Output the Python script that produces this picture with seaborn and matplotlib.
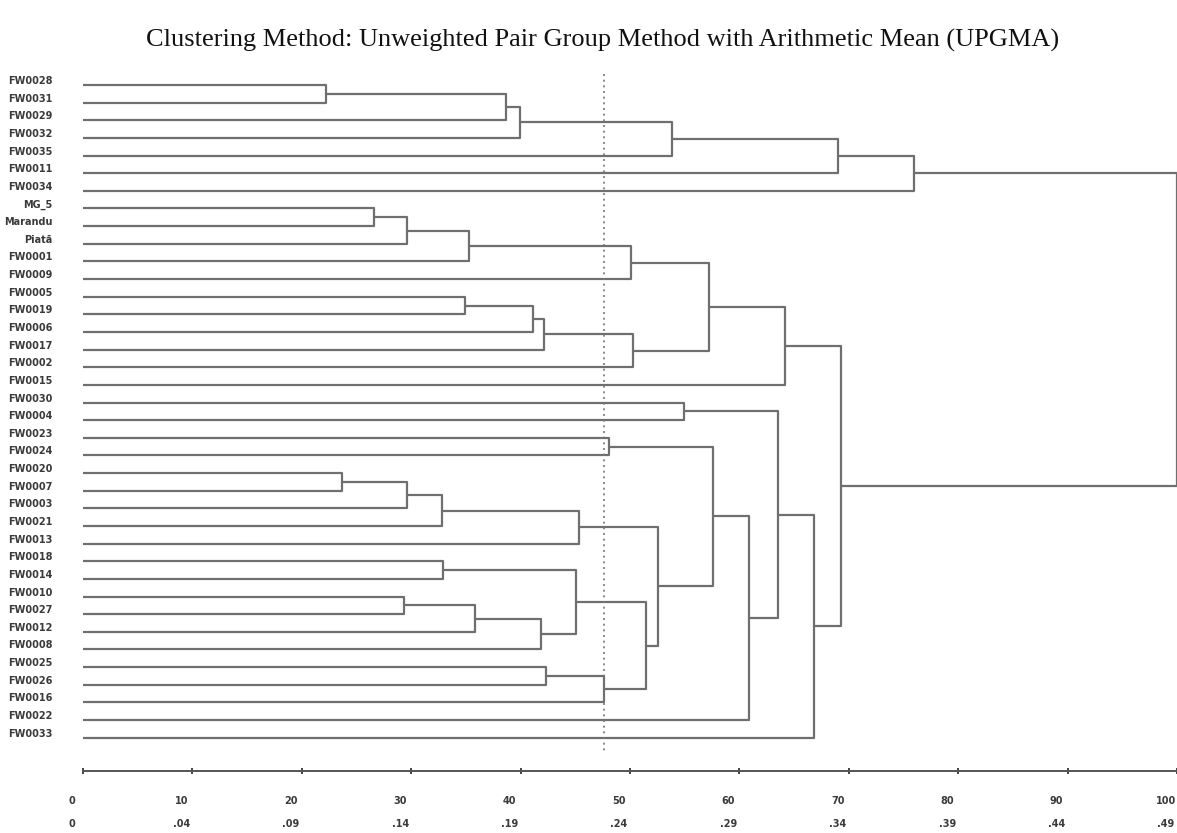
import matplotlib
matplotlib.use("Agg")
import matplotlib.pyplot as plt
import matplotlib.transforms as mtransforms
import seaborn as sns
import pandas as pd

# ---------------- data ----------------
leaves = ["FW0028", "FW0031", "FW0029", "FW0032", "FW0035", "FW0011", "FW0034",
          "MG_5", "Marandu", "Piatã", "FW0001", "FW0009", "FW0005", "FW0019",
          "FW0006", "FW0017", "FW0002", "FW0015", "FW0030", "FW0004", "FW0023",
          "FW0024", "FW0020", "FW0007", "FW0003", "FW0021", "FW0013", "FW0018",
          "FW0014", "FW0010", "FW0027", "FW0012", "FW0008", "FW0025", "FW0026",
          "FW0016", "FW0022", "FW0033"]

# merges: (name, left child, right child, height in % dissimilarity)
merge_names = ["a1", "a2", "a3", "a4", "a5", "A",
               "b1", "b2", "b3", "b4", "c1", "c2", "c3", "c4", "bc", "B",
               "d1", "e1", "f1", "f2", "f3", "f4", "g1", "h1", "h2", "h3", "gh",
               "k1", "k2", "ghk", "fghk", "efghk", "efghk22", "D", "DD",
               "BD", "ROOT"]
merge_left = ["FW0028", "a1", "a2", "a3", "a4", "a5",
              "MG_5", "b1", "b2", "b3", "FW0005", "c1", "c2", "c3", "b4", "bc",
              "FW0030", "FW0023", "FW0020", "f1", "f2", "f3", "FW0018", "FW0010", "h1", "h2", "g1",
              "FW0025", "k1", "gh", "f4", "e1", "efghk", "d1", "D",
              "B", "A"]
merge_right = ["FW0031", "FW0029", "FW0032", "FW0035", "FW0011", "FW0034",
               "Marandu", "Piatã", "FW0001", "FW0009", "FW0019", "FW0006", "FW0017", "FW0002", "c4", "FW0015",
               "FW0004", "FW0024", "FW0007", "FW0003", "FW0021", "FW0013", "FW0014", "FW0027", "FW0012", "FW0008", "h3",
               "FW0026", "FW0016", "k2", "ghk", "fghk", "FW0022", "efghk22", "FW0033",
               "DD", "BD"]
merge_height = [22.2, 38.7, 39.9, 53.8, 69.0, 76.0,
                26.6, 29.6, 35.3, 50.1, 34.9, 41.1, 42.1, 50.3, 57.2, 64.2,
                54.9, 48.1, 23.7, 29.6, 32.8, 45.3, 32.9, 29.3, 35.8, 41.9, 45.1,
                42.3, 47.6, 51.5, 52.6, 57.6, 60.9, 63.5, 66.8,
                69.3, 100.0]

cut_level = 47.6

tick_values = [0, 10, 20, 30, 40, 50, 60, 70, 80, 90, 100]
tick_labels_pct = ["0", "10", "20", "30", "40", "50", "60", "70", "80", "90", "100"]
tick_labels_dist = ["0", ".04", ".09", ".14", ".19", ".24", ".29", ".34", ".39", ".44", ".49"]

title = "Clustering Method: Unweighted Pair Group Method with Arithmetic Mean (UPGMA)"

# ---------------- geometry from the tree ----------------
pos = {name: (0.0, float(i)) for i, name in enumerate(leaves)}
rows = []
for k, (nm, l, r, h) in enumerate(zip(merge_names, merge_left, merge_right, merge_height)):
    xl, yl = pos[l]
    xr, yr = pos[r]
    rows += [dict(seg=k, order=0, x=xl, y=yl), dict(seg=k, order=1, x=h, y=yl),
             dict(seg=k, order=2, x=h, y=yr), dict(seg=k, order=3, x=xr, y=yr)]
    pos[nm] = (h, (yl + yr) / 2.0)
segs = pd.DataFrame(rows)

# ---------------- plot ----------------
sns.set_theme(style="white")
W, H = 1177, 833
fig = plt.figure(figsize=(W / 100, H / 100), dpi=100)
ax = fig.add_axes([83 / W, 1 - 770.7 / H, 1 - 83 / W, (770.7 - 60) / H])

line_col = "#6f6f6f"
sns.lineplot(data=segs, x="x", y="y", units="seg", estimator=None, sort=False,
             color=line_col, lw=1.6, ax=ax, legend=False)

step = 17.64
top_i = -25 / step
bot_i = (770.7 - 85) / step
ax.set_ylim(bot_i, top_i)
ax.set_xlim(0, 100)

ax.vlines(cut_level, (74 - 85) / step, (752 - 85) / step, colors="#777777",
          linestyles=(0, (1.2, 2.2)), lw=1.2)

label_font = ["Liberation Sans Narrow", "DejaVu Sans"]
ax.set_yticks(range(len(leaves)))
ax.set_yticklabels(leaves, fontsize=7, fontweight="bold", color="#3a3a3a",
                   family=label_font)
ax.tick_params(axis="y", left=False, length=0, pad=22)
yoff = mtransforms.ScaledTranslation(0, 5 / 100, fig.dpi_scale_trans)
for t in ax.get_yticklabels():
    t.set_transform(t.get_transform() + yoff)

ax.set_xticks(tick_values)
ax.set_xticklabels([f"{a}\n{b}" for a, b in zip(tick_labels_pct, tick_labels_dist)],
                   fontsize=7, fontweight="bold", color="#3a3a3a", family=label_font)
ax.tick_params(axis="x", bottom=True, direction="inout", length=4, width=1.4,
               color="#444444", pad=16)
xoff = mtransforms.ScaledTranslation(-11 / 100, 0, fig.dpi_scale_trans)
for t in ax.get_xticklabels():
    t.set_linespacing(2.7)
    t.set_transform(t.get_transform() + xoff)

ax.set_xlabel("")
ax.set_ylabel("")
for s in ["top", "right", "left"]:
    ax.spines[s].set_visible(False)
ax.spines["bottom"].set_color("#555555")
ax.spines["bottom"].set_linewidth(1.4)
ax.grid(False)

fig.text(603 / W, 1 - 40 / H, title, ha="center", va="center",
         family=["Liberation Serif", "DejaVu Serif"], fontsize=19, color="#111111")

fig.savefig("out.png", dpi=100)
